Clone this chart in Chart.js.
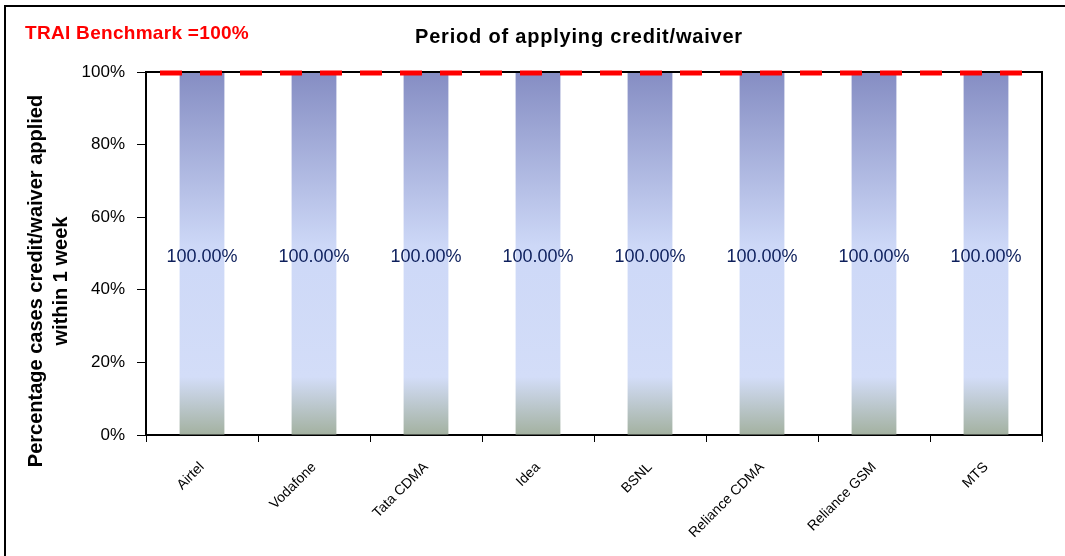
<!DOCTYPE html>
<html>
<head>
<meta charset="utf-8">
<script src="https://cdn.jsdelivr.net/npm/chart.js@4.4.0/dist/chart.umd.min.js"></script>
<style>
  body { margin: 0; background: #fff; }
  #wrap { width: 1065px; height: 556px; position: relative; }
</style>
</head>
<body>
<div id="wrap"><canvas id="credit-chart" width="1065" height="556"></canvas></div>
<script>
var operators = ["Airtel", "Vodafone", "Tata CDMA", "Idea", "BSNL", "Reliance CDMA", "Reliance GSM", "MTS"];
var appliedPct = [100, 100, 100, 100, 100, 100, 100, 100];
var yTicks = [0, 20, 40, 60, 80, 100];
var benchmark = 100;
var chartTitle = "Period of applying credit/waiver";
var benchmarkText = "TRAI Benchmark =100%";
var yTitle = ["Percentage cases credit/waiver applied", "within 1 week"];

var FONT = "'Liberation Sans', Arial, sans-serif";

function barFill(context) {
  var chart = context.chart;
  var area = chart.chartArea;
  if (!area) return "#c0c8f0";
  var g = chart.ctx.createLinearGradient(0, area.top, 0, area.bottom);
  g.addColorStop(0, "#858dc3");
  g.addColorStop(0.48, "#cdd8f7");
  g.addColorStop(0.84, "#d3ddf8");
  g.addColorStop(1, "#a3b1a0");
  return g;
}

// frame, benchmark line, value labels and free texts
var extras = {
  id: "extras",
  beforeDraw: function(chart) {
    var ctx = chart.ctx;
    ctx.save();
    ctx.fillStyle = "#fff";
    ctx.fillRect(0, 0, chart.width, chart.height);
    ctx.strokeStyle = "#000";
    ctx.lineWidth = 2;
    ctx.beginPath();
    ctx.moveTo(5, chart.height);
    ctx.lineTo(5, 6);
    ctx.lineTo(chart.width, 6);
    ctx.stroke();
    ctx.restore();
  },
  afterDatasetsDraw: function(chart) {
    var ctx = chart.ctx;
    var area = chart.chartArea;
    var y = chart.scales.y;
    var meta = chart.getDatasetMeta(0);
    ctx.save();
    // plot box
    ctx.strokeStyle = "#000";
    ctx.lineWidth = 2;
    ctx.beginPath();
    ctx.moveTo(area.left, area.top);
    ctx.lineTo(area.right, area.top);
    ctx.lineTo(area.right, area.bottom);
    ctx.stroke();
    // benchmark
    var by = y.getPixelForValue(benchmark) + 1;
    ctx.strokeStyle = "#ff0000";
    ctx.lineWidth = 5;
    ctx.setLineDash([22, 18]);
    ctx.beginPath();
    ctx.moveTo(area.left + 14, by);
    ctx.lineTo(area.right - 14, by);
    ctx.stroke();
    ctx.setLineDash([]);
    // value labels
    ctx.fillStyle = "#0d1f5c";
    ctx.font = "18px " + FONT;
    ctx.textAlign = "center";
    ctx.textBaseline = "middle";
    meta.data.forEach(function(bar, i) {
      ctx.fillText(appliedPct[i].toFixed(2) + "%", bar.x, y.getPixelForValue(appliedPct[i] / 2) + 4);
    });
    // titles
    ctx.fillStyle = "#000";
    ctx.font = "bold 20px " + FONT;
    ctx.letterSpacing = "0.8px";
    ctx.fillText(chartTitle, 579, 37);
    ctx.fillStyle = "#ff0000";
    ctx.font = "bold 19px " + FONT;
    ctx.letterSpacing = "0.3px";
    ctx.textAlign = "left";
    ctx.fillText(benchmarkText, 25, 34);
    // y axis title
    ctx.fillStyle = "#000";
    ctx.font = "bold 20px " + FONT;
    ctx.letterSpacing = "0px";
    ctx.textAlign = "center";
    ctx.translate(36, 281);
    ctx.rotate(-Math.PI / 2);
    ctx.fillText(yTitle[0], 0, 0);
    ctx.fillText(yTitle[1], 0, 25);
    ctx.restore();
  }
};

new Chart(document.getElementById("credit-chart"), {
  type: "bar",
  data: {
    labels: operators,
    datasets: [{
      label: "Applied within 1 week",
      data: appliedPct,
      backgroundColor: barFill,
      borderWidth: 0,
      categoryPercentage: 1,
      barPercentage: 0.4
    }]
  },
  options: {
    responsive: false,
    animation: false,
    layout: { padding: { top: 72, right: 23, left: 0, bottom: 0 } },
    plugins: {
      legend: { display: false },
      tooltip: { enabled: false }
    },
    scales: {
      x: {
        afterFit: function(scale) { scale.height = 121; },
        grid: { offset: true, drawOnChartArea: false, drawTicks: true, tickLength: 7, color: "#000", lineWidth: 1 },
        border: { color: "#000", width: 2 },
        ticks: {
          color: "#000",
          font: { size: 14, family: FONT },
          minRotation: 45,
          maxRotation: 45,
          padding: 17
        }
      },
      y: {
        min: 0,
        max: 100,
        afterFit: function(scale) { scale.width = 146; },
        afterBuildTicks: function(scale) {
          scale.ticks = yTicks.map(function(v) { return { value: v }; });
        },
        grid: { drawOnChartArea: false, drawTicks: true, tickLength: 9, color: "#000", lineWidth: 1 },
        border: { color: "#000", width: 2 },
        ticks: {
          color: "#000",
          padding: 12,
          font: { size: 17, family: FONT },
          callback: function(v) { return v + "%"; }
        }
      }
    }
  },
  plugins: [extras]
});
</script>
</body>
</html>
